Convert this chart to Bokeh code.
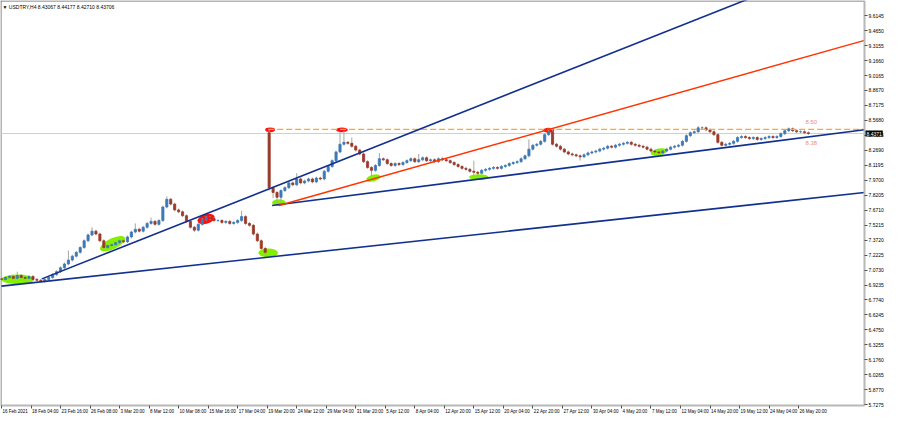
from bokeh.plotting import figure
from bokeh.models import (Range1d, LinearAxis, FixedTicker, NumeralTickFormatter,
                          CustomJSTickFormatter, Label, ColumnDataSource)
from bokeh.embed import file_html
from bokeh.resources import INLINE

# ---------------- data ----------------
title_text = "\u25bc USDTRY,H4  8.43067 8.44177 8.42710 8.43706"

date_labels = ["16 Feb 2021", "18 Feb 04:00", "23 Feb 16:00", "26 Feb 08:00", "3 Mar 20:00",
               "8 Mar 12:00", "10 Mar 08:00", "15 Mar 16:00", "17 Mar 04:00", "19 Mar 20:00",
               "24 Mar 12:00", "29 Mar 04:00", "31 Mar 20:00", "5 Apr 12:00", "8 Apr 04:00",
               "12 Apr 20:00", "15 Apr 12:00", "20 Apr 04:00", "22 Apr 20:00", "27 Apr 12:00",
               "30 Apr 04:00", "4 May 20:00", "7 May 12:00", "12 May 04:00", "14 May 20:00",
               "19 May 12:00", "24 May 04:00", "26 May 20:00"]
date_pos = [0.0, 7.5, 15.0, 22.5, 30.0, 37.5, 45.0, 52.5, 60.0, 67.5, 75.0, 82.5, 90.0, 97.5,
            105.0, 112.5, 120.0, 127.5, 135.0, 142.5, 150.0, 157.5, 165.0, 172.5, 180.0,
            187.5, 195.0, 202.5]

price_ticks = [9.6145, 9.4650, 9.3155, 9.1660, 9.0165, 8.8670, 8.7175, 8.5680, 8.4185,
               8.2690, 8.1195, 7.9700, 7.8205, 7.6710, 7.5215, 7.3720, 7.2225, 7.0730,
               6.9235, 6.7740, 6.6245, 6.4750, 6.3255, 6.1760, 6.0265, 5.8770, 5.7275]

closes = [6.980, 6.999, 7.009, 6.990, 7.019, 6.999, 6.990, 7.009, 6.980, 6.971,
          6.961, 6.980, 6.999, 7.028, 7.057, 7.096, 7.134, 7.173, 7.212, 7.250,
          7.298, 7.366, 7.424, 7.462, 7.433, 7.366, 7.298, 7.318, 7.327, 7.346,
          7.366, 7.356, 7.404, 7.453, 7.481, 7.462, 7.501, 7.539, 7.559, 7.530,
          7.568, 7.703, 7.780, 7.732, 7.674, 7.655, 7.616, 7.559, 7.501, 7.472,
          7.530, 7.578, 7.597, 7.587, 7.568, 7.568, 7.549, 7.559, 7.539, 7.549,
          7.568, 7.607, 7.539, 7.520, 7.433, 7.366, 7.289, 7.250, 7.896, 7.848,
          7.800, 7.867, 7.896, 7.944, 7.925, 7.983, 7.944, 7.963, 7.983, 7.954,
          7.992, 7.983, 8.060, 8.108, 8.166, 8.253, 8.330, 8.349, 8.339, 8.310,
          8.272, 8.233, 8.156, 8.098, 8.069, 8.118, 8.185, 8.175, 8.137, 8.118,
          8.137, 8.127, 8.147, 8.166, 8.185, 8.156, 8.175, 8.195, 8.166, 8.175,
          8.156, 8.185, 8.175, 8.166, 8.147, 8.127, 8.108, 8.089, 8.079, 8.060,
          8.050, 8.040, 8.069, 8.079, 8.089, 8.098, 8.089, 8.108, 8.118, 8.137,
          8.147, 8.156, 8.185, 8.214, 8.281, 8.320, 8.330, 8.359, 8.426, 8.455,
          8.330, 8.310, 8.281, 8.253, 8.233, 8.224, 8.214, 8.204, 8.224, 8.243,
          8.253, 8.262, 8.281, 8.291, 8.310, 8.301, 8.320, 8.330, 8.339, 8.349,
          8.330, 8.320, 8.310, 8.301, 8.281, 8.262, 8.253, 8.243, 8.262, 8.281,
          8.301, 8.310, 8.320, 8.359, 8.416, 8.445, 8.455, 8.494, 8.494, 8.474,
          8.455, 8.426, 8.349, 8.320, 8.330, 8.339, 8.359, 8.397, 8.407, 8.397,
          8.387, 8.397, 8.378, 8.387, 8.397, 8.407, 8.397, 8.407, 8.436, 8.465,
          8.484, 8.465, 8.455, 8.455, 8.445, 8.437]
first_open = 6.985
gap_opens = {68: 8.445}
spike_highs = {4: 7.057, 17: 7.269, 23: 7.501, 34: 7.539, 38: 7.597, 42: 7.809, 61: 7.665,
               68: 8.474, 75: 8.040, 86: 8.455, 87: 8.465, 89: 8.397, 96: 8.243, 106: 8.233,
               120: 8.166, 134: 8.378, 139: 8.484, 177: 8.513}
spike_lows = {10: 6.951, 49: 7.453, 67: 7.221, 68: 7.867, 69: 7.790, 70: 7.732, 71: 7.751,
              94: 8.012, 120: 8.021, 121: 8.012, 147: 8.166}
wick_pad = 0.014

# drawn objects (chart coordinates: bar index, price)
green_marks = dict(x=[4.125, 28.25, 67.75, 70.5, 94.5, 121.25, 167.0],
                   y=[6.980, 7.337, 7.245, 7.746, 7.992, 8.002, 8.253],
                   w=[8.25, 7.0, 5.0, 3.5, 3.75, 5.0, 4.25],
                   h=[0.096, 0.106, 0.087, 0.068, 0.068, 0.058, 0.068],
                   a=[0.0, 0.45, 0.0, 0.0, 0.25, 0.0, 0.2])
red_marks = dict(x=[52.0, 68.25, 86.5, 139.0],
                 y=[7.583, 8.474, 8.474, 8.470],
                 w=[4.5, 2.5, 3.0, 2.75],
                 h=[0.096, 0.048, 0.048, 0.048],
                 a=[0.3, 0.0, 0.0, 0.0])
lower_trend = ([0.0, 219.25], [6.913, 7.848])
steep_trend = ([10.25, 219.25], [6.985, 10.241])
red_trend = ([70.5, 219.25], [7.718, 9.368])
support_trend = ([68.75, 219.25], [7.718, 8.474])
resistance_level = 8.479
resistance_start = 67.75
level_texts = [("8.50", 204.25, 8.556), ("8.38", 204.25, 8.344)]
last_price_text = "8.4371"

# chart extents (bar index / price) shown inside the window frame
CX0, CX1 = -0.25, 219.25
CY0, CY1 = 5.720, 9.766

# ---------------- layout ----------------
W, H = 884, 415
AXIS_PX = 864          # pixel column of the price axis
BOTTOM_PX = 405        # pixel row of the time axis
sx = AXIS_PX / (CX1 - CX0)
sy = BOTTOM_PX / (CY1 - CY0)
XR = Range1d(CX0, CX0 + W / sx)
YR = Range1d(CY1 - H / sy, CY1)

n = len(closes)
idx = list(range(n))
opens = [first_open] + closes[:-1]
for k, v in gap_opens.items():
    opens[k] = v
highs = [spike_highs.get(i, max(opens[i], closes[i]) + wick_pad) for i in idx]
lows = [spike_lows.get(i, min(opens[i], closes[i]) - wick_pad) for i in idx]
up = [closes[i] >= opens[i] for i in idx]
UPC, DNC, WICK = "#3b78b8", "#9a3a28", "#a6a6a6"
src = ColumnDataSource(dict(x=idx, top=[max(opens[i], closes[i]) for i in idx],
                            bot=[min(opens[i], closes[i]) for i in idx],
                            hi=highs, lo=lows,
                            col=[UPC if u else DNC for u in up]))

p = figure(width=W, height=H, output_backend="svg", toolbar_location=None,
           x_range=XR, y_range=YR, x_axis_location=None, y_axis_location=None,
           min_border_left=0, min_border_top=0, min_border_right=0, min_border_bottom=0)
p.grid.visible = False
p.outline_line_color = None
p.background_fill_color = "white"
p.border_fill_color = "white"

FONT = "Liberation Sans"
ry = LinearAxis(ticker=FixedTicker(ticks=price_ticks), fixed_location=CX1, bounds=(CY0, CY1),
                formatter=NumeralTickFormatter(format="0.0000"))
ry.axis_line_color = "#b8b8b8"
ry.axis_line_width = 2
ry.major_tick_line_color = "#555555"
ry.major_tick_out = 3
ry.major_tick_in = 0
ry.minor_tick_line_color = None
ry.major_label_standoff = 1
ry.major_label_text_font_size = "5px"
ry.major_label_text_font = FONT
ry.major_label_text_color = "#000000"
p.add_layout(ry, "right")

bx = LinearAxis(ticker=FixedTicker(ticks=date_pos), fixed_location=CY0, bounds=(CX0, CX1),
                formatter=CustomJSTickFormatter(code="return ''"))
bx.axis_line_color = "#b8b8b8"
bx.axis_line_width = 2
bx.major_tick_line_color = "#555555"
bx.major_tick_out = 3
bx.major_tick_in = 0
bx.minor_tick_line_color = None
bx.major_label_text_font_size = "1px"
bx.major_label_standoff = 0
p.add_layout(bx, "below")

# window border (top and left)
half_x, half_y = 0.5 / sx, 0.5 / sy
p.line(x=[CX0, CX1], y=[CY1 - half_y, CY1 - half_y], line_color="#6a6a6a", line_width=1)
p.line(x=[CX0 + half_x, CX0 + half_x], y=[CY0, CY1], line_color="#6a6a6a", line_width=1)

# ellipses (drawn behind candles)
p.ellipse(x="x", y="y", width="w", height="h", angle="a", source=ColumnDataSource(green_marks),
          fill_color="#84f000", line_color=None)
p.ellipse(x="x", y="y", width="w", height="h", angle="a", source=ColumnDataSource(red_marks),
          fill_color="#ff1010", line_color=None)

# bid line
p.line(x=[CX0, CX1], y=[closes[-1], closes[-1]], line_color="#a9eaa9", line_width=1)

# candles
p.segment(x0="x", y0="lo", x1="x", y1="hi", source=src, line_color=WICK, line_width=1)
p.vbar(x="x", width=0.55, top="top", bottom="bot", source=src, fill_color="col", line_color="col",
       line_width=0.8)

# trend lines
p.line(x=[resistance_start, CX1], y=[resistance_level, resistance_level],
       line_color="#ffa62b", line_width=1.2, line_dash="6 3")
p.line(x=lower_trend[0], y=lower_trend[1], line_color="#12308f", line_width=1.6)
p.line(x=steep_trend[0], y=steep_trend[1], line_color="#12308f", line_width=1.6)
p.line(x=support_trend[0], y=support_trend[1], line_color="#12308f", line_width=1.6)
p.line(x=red_trend[0], y=red_trend[1], line_color="#ff3300", line_width=1.4)

for t, x, y in level_texts:
    p.add_layout(Label(x=x, y=y, text=t, text_font=FONT, text_font_size="6px",
                       text_color="#f08a80", text_baseline="middle", text_align="left"))

# title
p.add_layout(Label(x=CX0, y=CY1, text=title_text, text_font=FONT, text_font_size="5px",
                   text_color="#000000", text_baseline="top", text_align="left",
                   x_offset=2, y_offset=-3))

# date labels
for t, x in zip(date_labels, date_pos):
    p.add_layout(Label(x=x, y=CY0, text=t, text_font=FONT, text_font_size="4.5px",
                       text_color="#000000", text_baseline="top", text_align="left",
                       x_offset=1, y_offset=-3))

# current price box
p.add_layout(Label(x=CX1, y=closes[-1], text=last_price_text, text_font=FONT,
                   text_font_size="5px", text_color="#ffffff", background_fill_color="#000000",
                   text_baseline="middle", text_align="left", x_offset=1, padding=1))

open("out.html", "w").write(file_html(p, INLINE))
